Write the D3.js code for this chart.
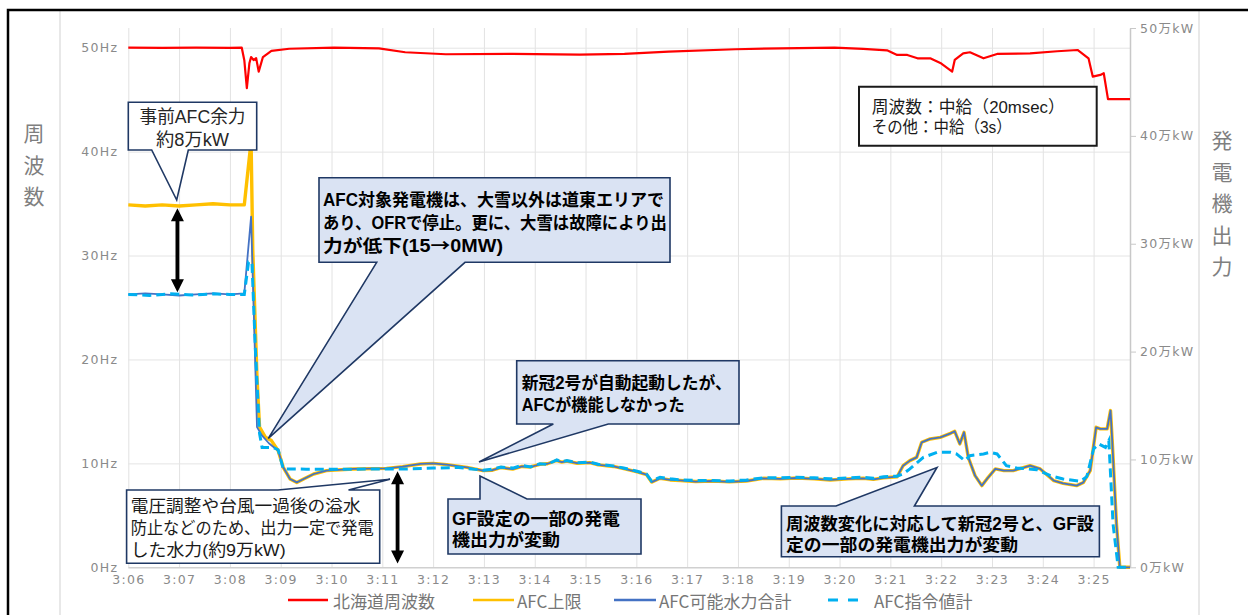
<!DOCTYPE html>
<html><head><meta charset="utf-8">
<script src="https://cdn.jsdelivr.net/npm/d3@7"></script>
<style>
body{margin:0;background:#fff}
svg{display:block}
text{font-family:"Noto Sans CJK JP","Noto Sans",sans-serif}
text.note{font-family:"Liberation Sans","Noto Sans CJK JP",sans-serif}
tspan.cjk{font-family:"Noto Sans CJK JP",sans-serif}
</style>
</head><body>
<svg id="chart" width="1248" height="615"></svg>
<script>
// ---------------- DATA ----------------
const timeTicks = ["3:06","3:07","3:08","3:09","3:10","3:11","3:12","3:13","3:14","3:15","3:16","3:17","3:18","3:19","3:20","3:21","3:22","3:23","3:24","3:25"];
const hzTicks = [0,10,20,30,40,50];
const hzLabels = ["0Hz","10Hz","20Hz","30Hz","40Hz","50Hz"];
const kwTicks = [0,10,20,30,40,50];
const kwLabels = ["0万kW","10万kW","20万kW","30万kW","40万kW","50万kW"];
const timeStart = "3:06:00", timeEnd = "3:25:43";

const seriesNames = ["北海道周波数","AFC上限","AFC可能水力合計","AFC指令値計"];

// 北海道周波数 (Hz, left axis)
const freqData = [
["3:06:00",50.0],["3:06:40",49.99],["3:07:20",50.0],["3:08:00",49.99],["3:08:14",50.0],["3:08:17",48.8],
["3:08:20",46.1],["3:08:23",48.5],["3:08:25",49.1],["3:08:28",48.8],["3:08:31",49.0],["3:08:34",47.7],
["3:08:39",49.1],["3:08:49",49.7],["3:09:10",49.9],["3:10:03",50.0],["3:10:56",49.94],["3:11:27",49.56],
["3:12:15",49.37],["3:13:34",49.40],["3:14:53",49.33],["3:15:46",49.40],["3:16:38",49.62],["3:17:57",49.85],
["3:18:50",49.94],["3:19:54",50.0],["3:20:28",49.88],["3:20:56",49.75],["3:21:08",49.30],["3:21:20",49.30],
["3:21:32",48.98],["3:21:47",48.98],["3:21:59",48.53],["3:22:13",47.70],["3:22:16",48.82],["3:22:26",49.46],
["3:22:34",49.56],["3:22:50",48.98],["3:23:06",49.40],["3:23:45",49.46],["3:24:17",49.66],["3:24:41",49.78],
["3:24:54",48.98],["3:24:59",47.22],["3:25:08",47.38],["3:25:12",47.54],["3:25:17",45.05],["3:25:43",45.05]
];

// AFC上限 (万kW, right axis)
const afcUpper = [
["3:06:00",33.6],["3:06:20",33.5],["3:06:40",33.6],["3:07:00",33.5],["3:07:20",33.6],["3:07:40",33.7],["3:08:00",33.6],
["3:08:17",33.6],["3:08:25",39.5],["3:08:27",29.4],["3:08:32",17.6],["3:08:35",13.0],["3:08:42",12.05],["3:08:49",11.75],
["3:08:57",10.8],["3:09:03",9.27],["3:09:11",8.19],["3:09:19",7.87],["3:09:27",8.19],["3:09:39",8.65],["3:09:54",8.96],
["3:10:26",9.12],["3:11:05",9.17],["3:11:24",9.33],["3:11:45",9.58],["3:12:00",9.64],["3:12:16",9.52],["3:12:40",9.27],
["3:12:59",8.96],["3:13:10",9.0],["3:13:20",9.25],["3:13:34",9.1],["3:13:45",9.35],["3:13:55",9.3],["3:14:06",9.55],
["3:14:15",9.6],["3:14:26",9.9],["3:14:32",9.75],["3:14:38",9.85],["3:14:50",9.65],["3:15:05",9.7],["3:15:15",9.5],
["3:15:33",9.35],["3:15:45",9.15],["3:16:01",8.85],["3:16:12",8.6],["3:16:18",7.9],["3:16:28",8.25],["3:16:40",8.1],
["3:16:52",8.05],["3:17:10",7.95],["3:17:31",8.0],["3:17:50",7.92],["3:18:10",8.0],["3:18:30",8.25],["3:18:50",8.2],
["3:19:09",8.28],["3:19:30",8.2],["3:19:49",8.1],["3:20:10",8.2],["3:20:28",8.25],["3:20:40",8.15],["3:20:52",8.3],
["3:21:08",8.4],["3:21:15",9.42],["3:21:23",9.89],["3:21:31",10.19],["3:21:37",11.59],["3:21:47",11.9],["3:21:59",12.05],
["3:22:11",12.42],["3:22:16",12.61],["3:22:22",11.44],["3:22:27",12.52],["3:22:32",10.19],["3:22:40",8.5],["3:22:48",7.57],
["3:22:54",8.19],["3:23:04",9.12],["3:23:14",8.96],["3:23:25",8.96],["3:23:45",9.42],["3:23:57",9.12],["3:24:13",8.03],
["3:24:24",7.78],["3:24:40",7.57],["3:24:48",7.87],["3:24:56",8.96],["3:25:03",12.98],["3:25:08",12.83],["3:25:16",12.83],
["3:25:20",14.53],["3:25:22",11.75],["3:25:27",4.04],["3:25:31",0],["3:25:43",0]
];

// AFC可能水力合計 (万kW, right axis)
const afcHydro = [
["3:06:00",25.3],["3:06:20",25.4],["3:06:40",25.3],["3:07:00",25.2],["3:07:20",25.3],["3:07:40",25.4],["3:08:00",25.3],
["3:08:17",25.4],["3:08:25",32.5],["3:08:32",13.0],["3:08:38",12.2],["3:08:46",11.5],
["3:08:57",10.8],["3:09:03",9.27],["3:09:11",8.19],["3:09:19",7.87],["3:09:27",8.19],["3:09:39",8.65],["3:09:54",8.96],
["3:10:26",9.12],["3:11:05",9.17],["3:11:24",9.33],["3:11:45",9.58],["3:12:00",9.64],["3:12:16",9.52],["3:12:40",9.27],
["3:12:59",8.96],["3:13:10",9.0],["3:13:20",9.25],["3:13:34",9.1],["3:13:45",9.35],["3:13:55",9.3],["3:14:06",9.55],
["3:14:15",9.6],["3:14:26",9.9],["3:14:32",9.75],["3:14:38",9.85],["3:14:50",9.65],["3:15:05",9.7],["3:15:15",9.5],
["3:15:33",9.35],["3:15:45",9.15],["3:16:01",8.85],["3:16:12",8.6],["3:16:18",7.9],["3:16:28",8.25],["3:16:40",8.1],
["3:16:52",8.05],["3:17:10",7.95],["3:17:31",8.0],["3:17:50",7.92],["3:18:10",8.0],["3:18:30",8.25],["3:18:50",8.2],
["3:19:09",8.28],["3:19:30",8.2],["3:19:49",8.1],["3:20:10",8.2],["3:20:28",8.25],["3:20:40",8.15],["3:20:52",8.3],
["3:21:08",8.4],["3:21:15",9.42],["3:21:23",9.89],["3:21:31",10.19],["3:21:37",11.59],["3:21:47",11.9],["3:21:59",12.05],
["3:22:11",12.42],["3:22:16",12.61],["3:22:22",11.44],["3:22:27",12.52],["3:22:32",10.19],["3:22:40",8.5],["3:22:48",7.57],
["3:22:54",8.19],["3:23:04",9.12],["3:23:14",8.96],["3:23:25",8.96],["3:23:45",9.42],["3:23:57",9.12],["3:24:13",8.03],
["3:24:24",7.78],["3:24:40",7.57],["3:24:48",7.87],["3:24:56",8.96],["3:25:03",12.98],["3:25:08",12.83],["3:25:16",12.83],
["3:25:20",14.53],["3:25:22",11.75],["3:25:27",4.04],["3:25:31",0],["3:25:43",0]
];

// AFC指令値計 (万kW, right axis)
const afcCommand = [
["3:06:00",25.3],["3:06:25",25.2],["3:06:50",25.35],["3:07:15",25.25],["3:07:40",25.35],["3:08:00",25.3],
["3:08:17",25.3],["3:08:22",28.3],["3:08:26",28.3],["3:08:30",20.4],["3:08:35",12.4],["3:08:38",11.1],["3:08:51",11.1],
["3:08:57",10.9],["3:09:03",9.12],["3:09:30",9.1],["3:10:30",9.1],["3:11:30",9.12],["3:12:00",9.2],["3:12:30",9.25],
["3:12:59",9.0],["3:13:10",9.1],["3:13:20",9.3],["3:13:34",9.2],["3:13:45",9.45],["3:13:55",9.3],["3:14:06",9.6],
["3:14:15",9.55],["3:14:26",9.95],["3:14:32",9.8],["3:14:38",9.9],["3:14:50",9.7],["3:15:05",9.75],["3:15:15",9.55],
["3:15:33",9.4],["3:15:45",9.2],["3:16:01",8.9],["3:16:12",8.65],["3:16:18",8.0],["3:16:28",8.35],["3:16:40",8.2],
["3:16:52",8.1],["3:17:10",8.05],["3:17:31",8.05],["3:17:50",8.0],["3:18:10",8.1],["3:18:30",8.3],["3:18:50",8.3],
["3:19:09",8.35],["3:19:30",8.3],["3:19:49",8.2],["3:20:10",8.3],["3:20:28",8.35],["3:20:40",8.25],["3:20:52",8.4],
["3:21:08",8.45],["3:21:15",8.65],["3:21:23",9.12],["3:21:39",10.19],["3:21:55",10.66],["3:22:11",10.66],["3:22:18",10.51],
["3:22:28",9.89],["3:22:34",10.35],["3:22:50",10.51],["3:22:58",10.66],["3:23:06",10.51],["3:23:17",9.42],["3:23:29",9.21],
["3:23:53",9.05],["3:24:09",8.5],["3:24:24",8.19],["3:24:44",7.97],["3:24:52",8.4],["3:25:00",10.97],["3:25:06",11.44],
["3:25:14",11.12],["3:25:18",11.75],["3:25:23",4.01],["3:25:29",0],["3:25:43",0]
];

// ---------------- CHART ----------------
const svg = d3.select("#chart");
const parseT = d3.timeParse("%H:%M:%S");
const tickDates = timeTicks.map(t => parseT(t + ":00"));

const plotTop = 28, plotBottom = 567.3, plotLeft = 128.3, plotRight = 1130;
const x = d3.scaleTime().domain([parseT(timeStart), parseT(timeEnd)]).range([plotLeft, plotRight]);
const yL = d3.scaleLinear().domain([0, 50]).range([plotBottom, 47.7]);
const yR = d3.scaleLinear().domain([0, 50]).range([plotBottom, plotTop]);

svg.append("rect").attr("width",1248).attr("height",615).attr("fill","#fff");

// chart area borders
svg.append("line").attr("x1",60).attr("x2",60).attr("y1",11).attr("y2",615).attr("stroke","#d9d9d9").attr("stroke-width",1.2);
svg.append("line").attr("x1",1199).attr("x2",1199).attr("y1",11).attr("y2",615).attr("stroke","#d9d9d9").attr("stroke-width",1.2);

// outer frame
svg.append("path").attr("d","M8,620 V10 H1260").attr("fill","none").attr("stroke","#000").attr("stroke-width",2.5);

// gridlines
const gridV = svg.append("g").attr("transform",`translate(0,${plotBottom})`)
  .call(d3.axisBottom(x).tickValues(tickDates).tickSize(-(plotBottom-plotTop)).tickFormat(""));
gridV.select(".domain").remove();
gridV.selectAll("line").attr("stroke","#e2e2e2").attr("stroke-width",1);

const gridH = svg.append("g").attr("transform",`translate(${plotLeft},0)`)
  .call(d3.axisLeft(yL).tickValues(hzTicks).tickSize(-(plotRight-plotLeft)).tickFormat(""));
gridH.select(".domain").remove();
gridH.selectAll("line").attr("stroke",d => d===0 ? "#d0d0d0" : "#e4e4e4").attr("stroke-width",d => d===0?1.5:1);

const tickFont = `"DejaVu Sans","Noto Sans CJK JP",sans-serif`;
// left axis labels
const axL = svg.append("g").attr("transform",`translate(${plotLeft},0)`)
  .call(d3.axisLeft(yL).tickValues(hzTicks).tickSize(0).tickPadding(10).tickFormat((d,i)=>hzLabels[i]));
axL.select(".domain").remove();
axL.selectAll("text").attr("fill","#8a8a8a").style("font-family",tickFont).style("font-size","12.5px").style("letter-spacing","1.3px");

// right axis
const axR = svg.append("g").attr("transform",`translate(${plotRight},0)`)
  .call(d3.axisRight(yR).tickValues(kwTicks).tickSize(6).tickSizeOuter(0).tickPadding(4).tickFormat((d,i)=>kwLabels[i]));
axR.select(".domain").attr("stroke","#c8c8c8").attr("stroke-width",1.5);
axR.selectAll("line").attr("stroke","#c8c8c8");
axR.selectAll("text").attr("fill","#8a8a8a").style("font-family",tickFont).style("font-size","12.5px").style("letter-spacing","1.3px");

// bottom axis labels
const axB = svg.append("g").attr("transform",`translate(0,${plotBottom})`)
  .call(d3.axisBottom(x).tickValues(tickDates).tickSize(0).tickPadding(8).tickFormat((d,i)=>timeTicks[i]));
axB.select(".domain").remove();
axB.selectAll("text").attr("fill","#8a8a8a").style("font-family",tickFont).style("font-size","12.5px").style("letter-spacing","1.3px");

// axis titles (vertical)
"周波数".split("").forEach((c,i)=>{
  svg.append("text").attr("x",34).attr("y",132+i*31.5).attr("text-anchor","middle").attr("dominant-baseline","central")
    .attr("fill","#7f7f7f").style("font-size","21px").text(c);
});
"発電機出力".split("").forEach((c,i)=>{
  svg.append("text").attr("x",1222).attr("y",139+i*31.5).attr("text-anchor","middle").attr("dominant-baseline","central")
    .attr("fill","#7f7f7f").style("font-size","21px").text(c);
});

// series
const lineL = d3.line().x(d=>x(parseT(d[0]))).y(d=>yL(d[1]));
const lineR = d3.line().x(d=>x(parseT(d[0]))).y(d=>yR(d[1]));
const styles = [
  {color:"#ff0000", width:2.2, dash:null},
  {color:"#ffc000", width:3.4, dash:null},
  {color:"#4472c4", width:1.8, dash:null},
  {color:"#00b0f0", width:3, dash:"9,5"}
];
svg.append("path").datum(afcUpper).attr("d",lineR).attr("fill","none").attr("stroke",styles[1].color).attr("stroke-width",styles[1].width).attr("stroke-linejoin","round");
svg.append("path").datum(afcHydro).attr("d",lineR).attr("fill","none").attr("stroke",styles[2].color).attr("stroke-width",styles[2].width).attr("stroke-linejoin","round");
svg.append("path").datum(afcCommand).attr("d",lineR).attr("fill","none").attr("stroke",styles[3].color).attr("stroke-width",styles[3].width).attr("stroke-dasharray",styles[3].dash);
svg.append("path").datum(freqData).attr("d",lineL).attr("fill","none").attr("stroke",styles[0].color).attr("stroke-width",styles[0].width).attr("stroke-linejoin","round");

// double arrows
function dblArrow(cx, y1, y2){
  const hw = 6.5, hl = 13, sw = 1.9;
  const d = `M${cx},${y1} L${cx+hw},${y1+hl} L${cx+sw},${y1+hl} L${cx+sw},${y2-hl} L${cx+hw},${y2-hl} L${cx},${y2} L${cx-hw},${y2-hl} L${cx-sw},${y2-hl} L${cx-sw},${y1+hl} L${cx-hw},${y1+hl} Z`;
  svg.append("path").attr("d",d).attr("fill","#000");
}
dblArrow(x(parseT("3:06:58")), yR(33.3), yR(25.5));
dblArrow(x(parseT("3:11:18")), yR(8.9), yR(0.35));

// callouts (one text element per line)
const navy = "#1f3864", lightBlue = "#dae3f3";
function callout(d, fill, stroke, lines, o){
  const g = svg.append("g");
  g.append("path").attr("d",d).attr("fill",fill).attr("stroke",stroke).attr("stroke-width",o.sw||1.6).attr("stroke-linejoin","miter");
  lines.forEach((t,i)=>{
    const tx = g.append("text").attr("class","note").attr("x",o.x).attr("y",o.y0 + i*o.dy + o.size*0.36)
      .attr("text-anchor",o.anchor||"start").attr("fill",o.color||"#000")
      .style("font-size",o.size+"px").style("font-weight",o.weight||"normal");
    // split so that the arrow sign uses the CJK font (full-width arrow)
    t.split(/(→)/).filter(s=>s.length).forEach(part=>{
      tx.append("tspan").attr("class", part==="→" ? "cjk" : null).text(part);
    });
    if (o.widths && o.widths[i]) tx.attr("textLength",o.widths[i]).attr("lengthAdjust","spacingAndGlyphs");
  });
}
callout("M128.3,102.3 H256.7 V150 H188.3 L176.7,200 L151.7,150 H128.3 Z","#fff",navy,
  ["事前AFC余力","約8万kW"],{x:192.5,y0:116.7,dy:23.3,size:18,anchor:"middle",color:"#262626",widths:[106,73]});
callout("M319,177.7 H670 V262.3 H465 L268.3,438.3 L376.7,262.3 H319 Z",lightBlue,navy,
  ["AFC対象発電機は、大雪以外は道東エリアで","あり、OFRで停止。更に、大雪は故障により出","力が低下(15→0MW)"],
  {x:323,y0:200,dy:22.7,size:17.5,weight:"bold",widths:[341,344,180]});
callout("M516.7,360.7 H739 V424 H608.3 L479,462 L553.3,424 H516.7 Z",lightBlue,navy,
  ["新冠2号が自動起動したが、","AFCが機能しなかった"],
  {x:521.7,y0:382.7,dy:22.3,size:17.5,weight:"bold",widths:[210,163]});
callout("M448,499 H480 L480,476 L527,499 H641 V554 H448 Z",lightBlue,navy,
  ["GF設定の一部の発電","機出力が変動"],
  {x:452,y0:518.5,dy:21,size:17.5,weight:"bold",widths:[168,108]});
callout("M126.6,490 H278 L390,479.3 L348.5,490 H379.7 V563.3 H126.6 Z","#fff",navy,
  ["電圧調整や台風一過後の溢水","防止などのため、出力一定で発電","した水力(約9万kW)"],
  {x:130.7,y0:506,dy:22,size:17,color:"#1a1a1a",widths:[230,243,155]});
callout("M781.4,506 H836 L937,467.5 L914.4,506 H1099.4 V556.7 H781.4 Z",lightBlue,navy,
  ["周波数変化に対応して新冠2号と、GF設","定の一部の発電機出力が変動"],
  {x:786,y0:523.3,dy:21.7,size:17.5,weight:"bold",widths:[308,232]});
callout("M859,86.7 H1096.7 V145.7 H859 Z","#fff","#1a1a1a",
  ["周波数：中給（20msec）","その他：中給（3s）"],
  {x:871.7,y0:106.7,dy:20.6,size:17,color:"#1a1a1a",sw:2,widths:[193,140]});

// legend
const legendItems = [
  {x1:288,x2:328,tx:333},
  {x1:473,x2:514,tx:517},
  {x1:614,x2:656,tx:659},
  {x1:828,x2:862,tx:874}
];
const legendY = 600;
legendItems.forEach((it,i)=>{
  const s = styles[i];
  svg.append("line").attr("x1",it.x1).attr("x2",it.x2).attr("y1",legendY).attr("y2",legendY)
    .attr("stroke",s.color).attr("stroke-width",i===3?3:2.5).attr("stroke-dasharray",i===3?"10,10":null);
  svg.append("text").attr("x",it.tx).attr("y",legendY).attr("dominant-baseline","central")
    .attr("fill","#767676").style("font-size","17px").text(seriesNames[i]);
});
</script>
</body></html>
